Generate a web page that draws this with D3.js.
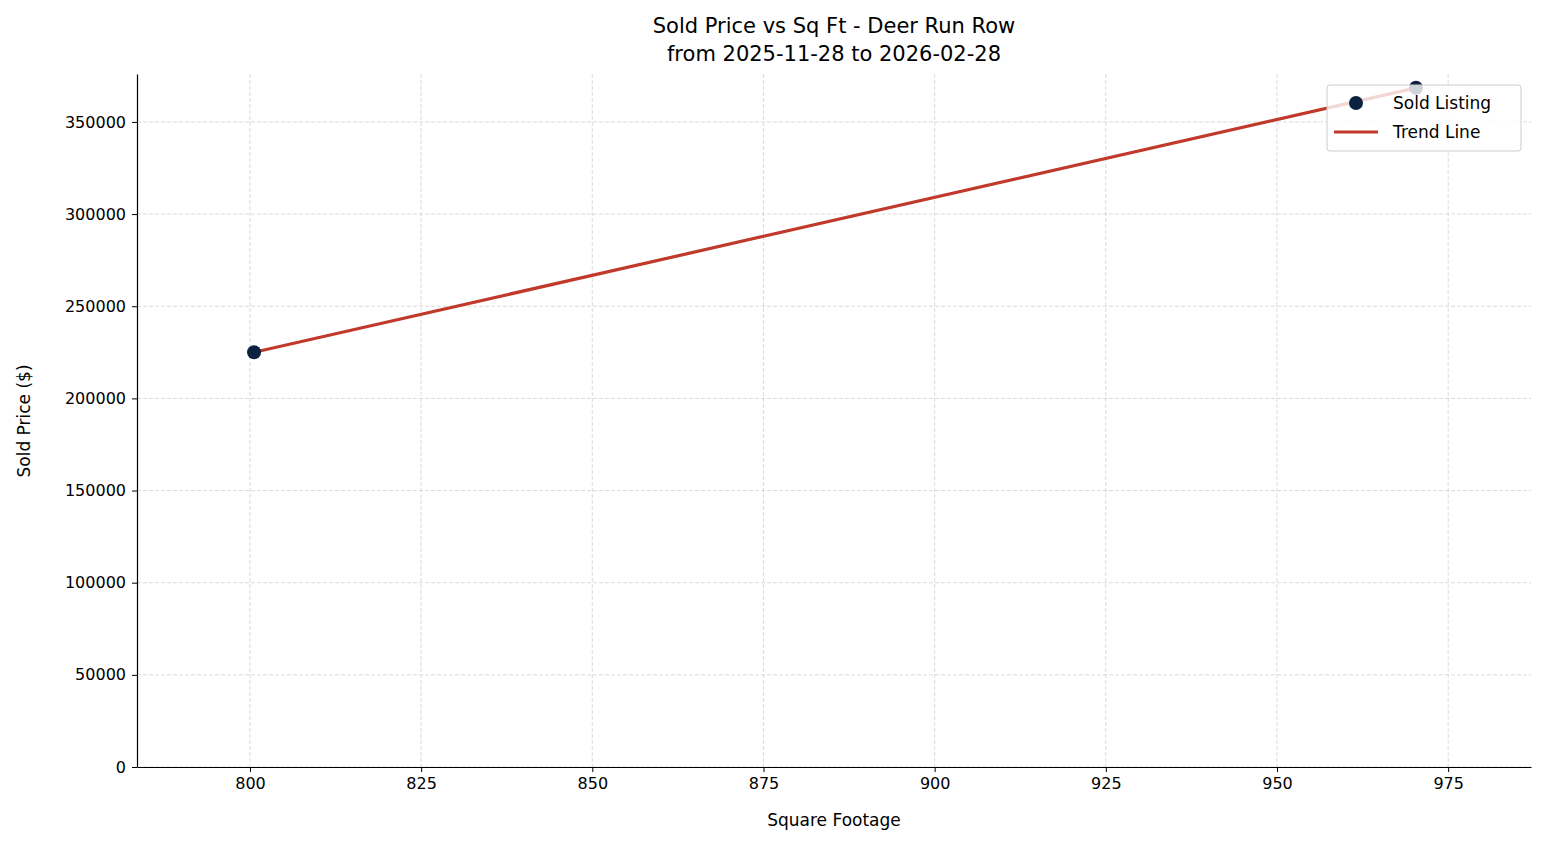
<!DOCTYPE html>
<html><head><meta charset="utf-8">
<script src="https://cdn.jsdelivr.net/npm/d3@7"></script>
<style>body{margin:0;background:#fff;font-family:"DejaVu Sans",sans-serif;}</style>
</head><body><svg width="1547" height="845"></svg>
<script>
// data
var sqft = [800.6, 970.3];
var price = [225000, 368500];
var xTicks = [800, 825, 850, 875, 900, 925, 950, 975];
var yTicks = [0, 50000, 100000, 150000, 200000, 250000, 300000, 350000];

(function () {
    // least squares trend line
    var mx = d3.mean(sqft), my = d3.mean(price);
    var slope = d3.sum(sqft, function (d, i) { return (d - mx) * (price[i] - my); }) /
        d3.sum(sqft, function (d) { return (d - mx) * (d - mx); });
    var icpt = my - slope * mx;

    var pLeft = 137, pRight = 1531, pTop = 74, pBottom = 767;
    var x = d3.scaleLinear().domain([783.5, 987.1]).range([pLeft, pRight]);
    var y = d3.scaleLinear().domain([0, 376000]).range([pBottom, pTop]);

    var svg = d3.select("svg");

    // grid
    svg.append("g").selectAll("line").data(xTicks).enter().append("line")
        .attr("x1", function (d) { return x(d); }).attr("x2", function (d) { return x(d); })
        .attr("y1", pTop).attr("y2", pBottom)
        .attr("stroke", "#ccc").attr("stroke-width", 0.7).attr("stroke-dasharray", "4,2");
    svg.append("g").selectAll("line").data(yTicks).enter().append("line")
        .attr("y1", function (d) { return y(d); }).attr("y2", function (d) { return y(d); })
        .attr("x1", pLeft).attr("x2", pRight)
        .attr("stroke", "#ccc").attr("stroke-width", 0.7).attr("stroke-dasharray", "4,2");

    // axes
    var xAxis = svg.append("g").attr("transform", "translate(0," + pBottom + ")")
        .call(d3.axisBottom(x).tickValues(xTicks).tickSizeInner(5).tickSizeOuter(0).tickPadding(6).tickFormat(d3.format("d")));
    var yAxis = svg.append("g").attr("transform", "translate(" + pLeft + ",0)")
        .call(d3.axisLeft(y).tickValues(yTicks).tickSizeInner(5).tickSizeOuter(0).tickPadding(6).tickFormat(d3.format("d")));
    [xAxis, yAxis].forEach(function (a) {
        a.attr("font-size", 16).attr("font-family", "DejaVu Sans");
        a.selectAll("text").attr("fill", "#000");
        a.select(".domain").attr("stroke-width", 1.2);
    });

    // trend line
    svg.append("line")
        .attr("x1", x(sqft[0])).attr("y1", y(icpt + slope * sqft[0]))
        .attr("x2", x(sqft[1])).attr("y2", y(icpt + slope * sqft[1]))
        .attr("stroke", "#c0392b").attr("stroke-width", 3.2);

    // points
    svg.append("g").selectAll("circle").data(sqft).enter().append("circle")
        .attr("cx", function (d) { return x(d); })
        .attr("cy", function (d, i) { return y(price[i]); })
        .attr("r", 7).attr("fill", "#0d2240");

    // titles
    svg.append("text").attr("x", 834).attr("y", 33).attr("text-anchor", "middle")
        .attr("font-size", 21).text("Sold Price vs Sq Ft - Deer Run Row");
    svg.append("text").attr("x", 834).attr("y", 61).attr("text-anchor", "middle")
        .attr("font-size", 21).text("from 2025-11-28 to 2026-02-28");
    svg.append("text").attr("x", 834).attr("y", 826).attr("text-anchor", "middle")
        .attr("font-size", 17).text("Square Footage");
    svg.append("text").attr("transform", "translate(30,421) rotate(-90)").attr("text-anchor", "middle")
        .attr("font-size", 17).text("Sold Price ($)");

    // legend
    var lg = svg.append("g").attr("transform", "translate(1327,85)");
    lg.append("rect").attr("width", 194).attr("height", 66).attr("rx", 3)
        .attr("fill", "#fff").attr("fill-opacity", 0.8).attr("stroke", "#ccc");
    lg.append("circle").attr("cx", 29).attr("cy", 18).attr("r", 7).attr("fill", "#0d2240");
    lg.append("text").attr("x", 66).attr("y", 24).attr("font-size", 17).text("Sold Listing");
    lg.append("line").attr("x1", 7).attr("x2", 51).attr("y1", 47).attr("y2", 47)
        .attr("stroke", "#c0392b").attr("stroke-width", 3.2);
    lg.append("text").attr("x", 66).attr("y", 53).attr("font-size", 17).text("Trend Line");
})();
</script></body></html>
